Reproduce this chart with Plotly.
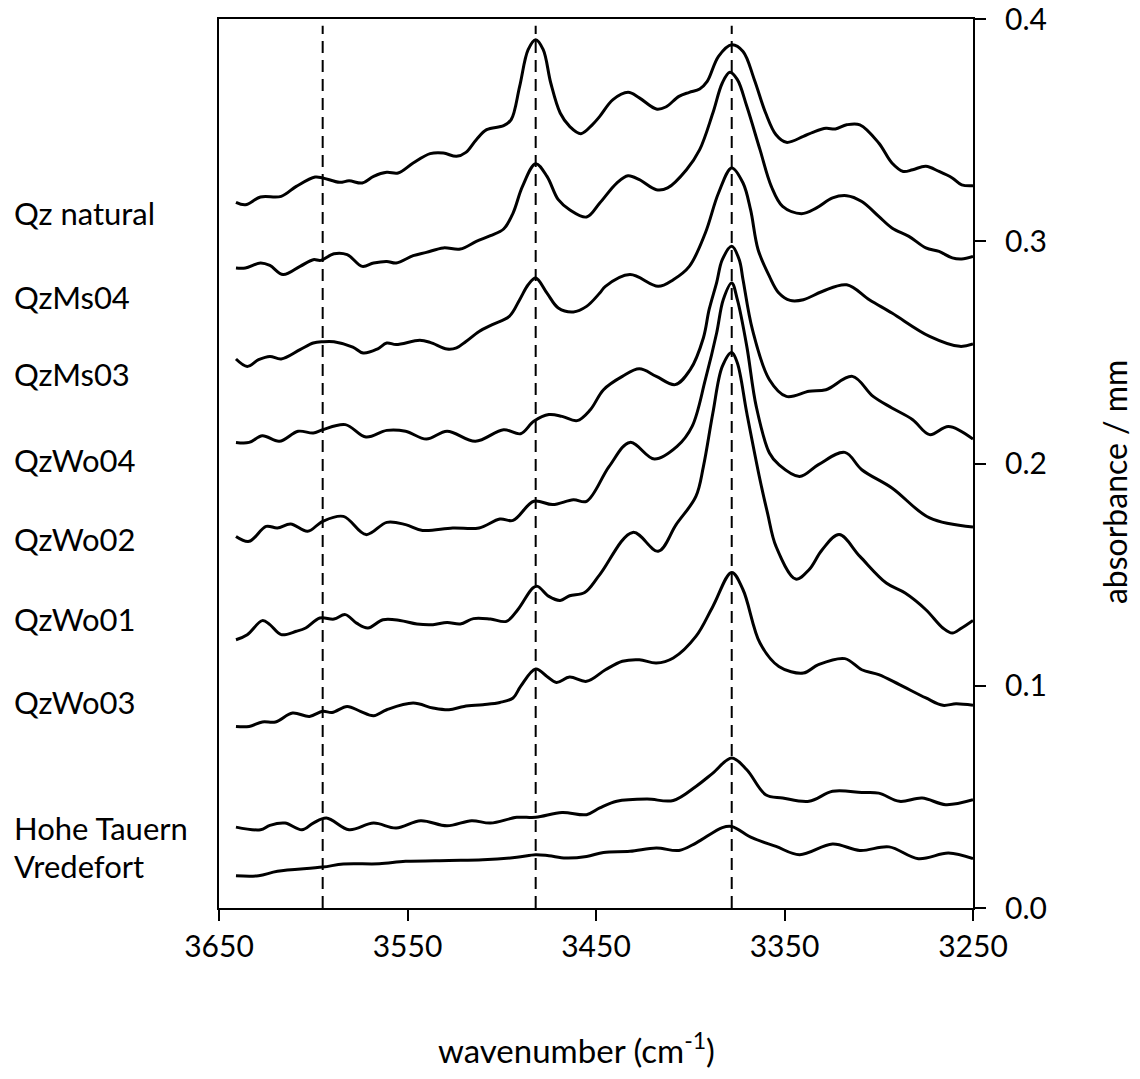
import plotly.graph_objects as go

# ---------------- data (wavenumber in cm-1, absorbance per mm) ----------------
wn_qz_natural = [3641, 3636, 3628, 3617, 3609, 3599, 3595, 3586, 3581, 3574, 3568, 3561, 3555, 3547, 3538,
                 3531, 3524, 3519, 3513.5, 3508, 3499, 3495, 3490.5, 3486, 3482, 3478, 3474, 3469, 3464, 3458,
                 3452, 3448, 3441, 3433, 3427, 3418, 3413, 3406, 3400.5, 3395, 3391, 3385, 3378, 3372, 3366,
                 3360, 3354.5, 3349, 3340, 3335, 3328, 3323, 3317, 3310, 3300, 3293, 3287, 3282, 3275, 3268,
                 3261, 3256, 3250]
abs_qz_natural = [.3175, .3164, .3199, .3202, .3247, .3289, .3285, .3265, .3272, .3262, .3292, .3310, .3307, .3352, .3394,
                  .3397, .3382, .3400, .3457, .3502, .3520, .3547, .3697, .3862, .3907, .3862, .3712, .3577, .3517, .3484,
                  .3524, .3562, .3637, .3670, .3645, .3595, .3604, .3652, .3670, .3685, .3719, .3832, .3884, .3854, .3727,
                  .3577, .3479, .3445, .3472, .3490, .3508, .3505, .3524, .3524, .3442, .3352, .3314, .3322, .3337, .3314,
                  .3285, .3254, .3250]

wn_qzms04 = [3641, 3636, 3628, 3623, 3616, 3607, 3600, 3596, 3589, 3582, 3574, 3568, 3561, 3556, 3547,
             3540, 3531, 3522, 3513.5, 3506, 3499, 3494, 3489, 3482, 3476, 3470, 3464, 3455, 3448, 3439,
             3433, 3427, 3418, 3412, 3402, 3395, 3388, 3383, 3379, 3375, 3370, 3363, 3357, 3351, 3341,
             3333, 3324.5, 3317, 3309, 3300, 3293, 3284, 3275, 3268, 3261, 3256, 3250]
abs_qzms04 = [.2880, .2880, .2902, .2891, .2850, .2887, .2917, .2914, .2944, .2940, .2887, .2902, .2909, .2902, .2935,
              .2950, .2970, .2965, .2999, .3025, .3055, .3127, .3247, .3349, .3292, .3187, .3142, .3109, .3172, .3262,
              .3295, .3277, .3232, .3240, .3322, .3412, .3577, .3712, .3760, .3727, .3607, .3412, .3247, .3157, .3124,
              .3150, .3195, .3205, .3179, .3112, .3060, .3022, .2970, .2954, .2925, .2920, .2932]

wn_qzms03 = [3641, 3635, 3629, 3623, 3617, 3607, 3600, 3595, 3589, 3579, 3573.5, 3566, 3561, 3556, 3543.5,
             3538, 3529, 3524, 3519, 3512, 3505, 3496, 3490.5, 3486, 3482, 3476, 3470, 3462, 3455, 3448,
             3445, 3432, 3417, 3409, 3400.5, 3392, 3385, 3378, 3372, 3368, 3364, 3358, 3353, 3347, 3340,
             3330, 3317, 3305, 3293, 3273, 3257, 3250]
abs_qzms03 = [.2470, .2437, .2467, .2482, .2470, .2512, .2542, .2548, .2548, .2524, .2497, .2515, .2542, .2535, .2554,
              .2545, .2515, .2520, .2549, .2594, .2625, .2662, .2737, .2804, .2835, .2767, .2700, .2682, .2707, .2767,
              .2797, .2850, .2797, .2827, .2887, .3037, .3217, .3330, .3262, .3142, .2962, .2842, .2767, .2734, .2737,
              .2774, .2804, .2737, .2677, .2572, .2527, .2538]

wn_qzwo04 = [3641, 3634, 3627, 3618, 3608, 3600, 3595, 3583, 3572, 3561, 3551, 3540, 3529, 3514, 3499,
             3490, 3483, 3475, 3468, 3460, 3453, 3446, 3436, 3427, 3418, 3408, 3400, 3393, 3390, 3386,
             3383, 3378, 3374, 3372, 3367, 3358, 3349, 3337, 3328, 3314, 3303, 3293, 3282, 3273, 3263, 3250]
abs_qzwo04 = [.2095, .2095, .2125, .2100, .2145, .2137, .2152, .2175, .2119, .2149, .2145, .2110, .2145, .2100, .2152,
              .2134, .2190, .2220, .2212, .2193, .2242, .2332, .2392, .2426, .2392, .2355, .2422, .2566, .2692, .2814,
              .2917, .2977, .2917, .2827, .2602, .2377, .2302, .2325, .2332, .2392, .2302, .2250, .2197, .2130, .2167, .2110]

wn_qzwo02 = [3641, 3634, 3625, 3619, 3612, 3603, 3595, 3584, 3572, 3561, 3551, 3542, 3526, 3512, 3501,
             3494, 3483, 3473, 3462, 3455, 3443, 3432, 3419, 3407, 3399, 3392, 3386, 3382.5, 3378, 3375,
             3370, 3365, 3358, 3353, 3342, 3332, 3318, 3309, 3293, 3273, 3250]
abs_qzwo02 = [.1672, .1650, .1717, .1710, .1728, .1695, .1740, .1762, .1680, .1735, .1725, .1699, .1710, .1710, .1750,
              .1744, .1830, .1815, .1837, .1830, .1987, .2095, .2020, .2077, .2167, .2377, .2587, .2737, .2812, .2737,
              .2527, .2257, .2047, .1995, .1942, .1995, .2050, .1972, .1890, .1755, .1714]

wn_qzwo01 = [3641, 3635, 3627, 3623, 3617, 3609, 3604, 3596.5, 3589, 3583, 3577, 3571, 3563, 3554, 3545,
             3536.5, 3529, 3522, 3515, 3506, 3497.5, 3491.5, 3483.5, 3481, 3475, 3469, 3464, 3456, 3448, 3430.5,
             3417, 3407.5, 3397, 3393, 3388, 3383, 3378, 3375, 3370, 3363, 3359, 3354.5, 3344, 3337, 3330,
             3321, 3310, 3296, 3286, 3275, 3266, 3261, 3256, 3250]
abs_qzwo01 = [.1207, .1230, .1293, .1275, .1230, .1245, .1260, .1305, .1300, .1320, .1282, .1260, .1297, .1294, .1278,
              .1275, .1285, .1278, .1302, .1300, .1290, .1342, .1440, .1447, .1402, .1384, .1405, .1420, .1500, .1690,
              .1605, .1725, .1852, .1987, .2227, .2437, .2500, .2452, .2227, .1927, .1777, .1627, .1480, .1522, .1612,
              .1680, .1582, .1462, .1417, .1342, .1260, .1237, .1260, .1294]

wn_qzwo03 = [3641, 3634, 3627, 3620, 3611, 3602, 3595, 3590, 3582, 3575, 3568, 3561, 3547, 3536.5, 3528,
             3520, 3510, 3501, 3494, 3490, 3482, 3476, 3471, 3464, 3455, 3445, 3436, 3427, 3418, 3409,
             3397, 3388, 3378, 3372, 3363, 3353, 3340, 3332, 3318, 3309, 3300, 3289, 3275, 3266, 3259, 3250]
abs_qzwo03 = [.0817, .0817, .0837, .0837, .0877, .0862, .0885, .0880, .0907, .0885, .0865, .0892, .0922, .0900, .0892,
              .0907, .0915, .0925, .0945, .0997, .1075, .1042, .1015, .1039, .1020, .1072, .1110, .1117, .1102, .1125,
              .1222, .1357, .1510, .1432, .1192, .1087, .1057, .1095, .1122, .1072, .1050, .1005, .0945, .0912, .0919, .0912]

wn_hohe_tauern = [3641, 3628, 3623, 3615, 3606, 3600, 3593, 3581, 3568, 3556, 3543, 3529, 3516, 3506, 3492,
                  3482, 3468, 3455, 3448, 3439, 3423, 3409, 3397, 3388, 3378, 3370, 3360, 3351, 3337, 3324.5,
                  3309, 3300, 3289, 3277, 3264.5, 3250]
abs_hohe_tauern = [.0364, .0352, .0372, .0382, .0352, .0382, .0405, .0352, .0382, .0360, .0393, .0370, .0393, .0382, .0408,
                   .0408, .0430, .0420, .0450, .0480, .0490, .0484, .0547, .0607, .0675, .0622, .0510, .0495, .0480, .0525,
                   .0520, .0517, .0480, .0495, .0465, .0487]

wn_vredefort = [3641, 3629, 3619, 3595, 3584, 3565, 3551, 3528, 3510, 3492, 3482, 3475, 3466, 3455, 3446,
                3432, 3418, 3406, 3397, 3383, 3378, 3367, 3354.5, 3342, 3324.5, 3310, 3294.5, 3279, 3263, 3250]
abs_vredefort = [.0145, .0145, .0165, .0184, .0198, .0199, .0210, .0214, .0217, .0228, .0240, .0235, .0225, .0232, .0250,
                 .0255, .0270, .0259, .0292, .0362, .0367, .0315, .0277, .0240, .0288, .0259, .0275, .0222, .0247, .0222]

sample_names = ["Qz natural", "QzMs04", "QzMs03", "QzWo04", "QzWo02", "QzWo01", "QzWo03",
                "Hohe Tauern", "Vredefort"]
# vertical position of each sample label, in absorbance units
label_abs = [0.3128, 0.2750, 0.2403, 0.2015, 0.1659, 0.1299, 0.0928, 0.0359, 0.0191]

band_wn = [3595, 3482, 3378]          # dashed reference bands
x_ticks = [3650, 3550, 3450, 3350, 3250]
y_ticks = [0.0, 0.1, 0.2, 0.3, 0.4]
y_ticktext = ["0.0", "0.1", "0.2", "0.3", "0.4"]

series_x = [wn_qz_natural, wn_qzms04, wn_qzms03, wn_qzwo04, wn_qzwo02, wn_qzwo01, wn_qzwo03,
            wn_hohe_tauern, wn_vredefort]
series_y = [abs_qz_natural, abs_qzms04, abs_qzms03, abs_qzwo04, abs_qzwo02, abs_qzwo01, abs_qzwo03,
            abs_hohe_tauern, abs_vredefort]

# ---------------- figure ----------------
FONT = "Lato"
fig = go.Figure()

for name, xs, ys in zip(sample_names, series_x, series_y):
    fig.add_trace(go.Scatter(
        x=xs, y=ys, mode="lines", name=name, showlegend=False, hoverinfo="skip",
        line=dict(color="black", width=3, shape="spline", smoothing=1.0)))

for b in band_wn:
    fig.add_shape(type="line", xref="x", yref="y", x0=b, x1=b, y0=0, y1=0.397,
                  line=dict(color="black", width=2, dash="12px,7px"), layer="below")

for name, ya in zip(sample_names, label_abs):
    fig.add_annotation(text=name, xref="paper", yref="y", x=-0.2745, y=ya,
                       xanchor="left", yanchor="middle", showarrow=False,
                       font=dict(family=FONT, size=31, color="black"))

fig.add_annotation(text="wavenumber (cm<sup>-1</sup>)", xref="paper", yref="paper",
                   x=0.4735, y=-0.1575, xanchor="center", yanchor="middle", showarrow=False,
                   font=dict(family=FONT, size=33, color="black"))
fig.add_annotation(text="absorbance / mm", xref="paper", yref="paper",
                   x=1.1885, y=0.4792, xanchor="center", yanchor="middle", showarrow=False,
                   textangle=-90, font=dict(family=FONT, size=32, color="black"))

fig.update_layout(
    width=1140, height=1079,
    margin=dict(l=219, r=167, t=19, b=171, autoexpand=False),
    paper_bgcolor="white", plot_bgcolor="white",
    xaxis=dict(range=[3650, 3250], tickvals=x_ticks, ticks="outside", ticklen=11, tickwidth=2,
               tickcolor="black", showline=True, linecolor="black", linewidth=2, mirror=True,
               showgrid=False, zeroline=False, ticklabelstandoff=0, automargin=False,
               ticklabeloverflow="allow",
               tickfont=dict(family=FONT, size=30, color="black")),
    yaxis=dict(range=[0, 0.4], side="right", tickvals=y_ticks, ticktext=y_ticktext,
               ticks="outside", ticklen=11, tickwidth=2, tickcolor="black",
               showline=True, linecolor="black", linewidth=2, mirror=True,
               showgrid=False, zeroline=False, ticklabelstandoff=13, automargin=False,
               ticklabeloverflow="allow",
               tickfont=dict(family=FONT, size=30, color="black")),
)

fig.write_html("out.html")
